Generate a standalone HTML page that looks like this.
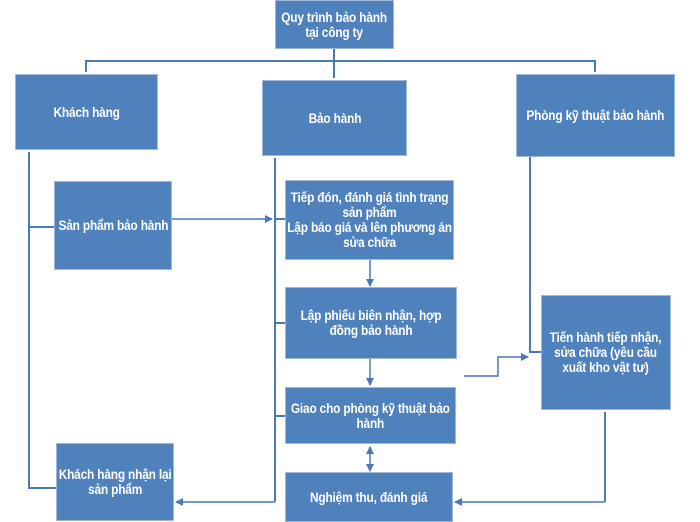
<!DOCTYPE html>
<html><head><meta charset="utf-8"><style>
body{margin:0;background:#fff;width:700px;height:521px;overflow:hidden;position:relative;font-family:"Liberation Sans",sans-serif;}
.b{position:absolute;background:#4f81bd;border:1px solid #9fb8d8;box-sizing:border-box;color:#fff;font-weight:bold;font-size:13.5px;line-height:15px;display:flex;align-items:center;justify-content:center;text-align:center;white-space:nowrap;}
.b span{display:inline-block;transform:scaleX(0.88);letter-spacing:-0.2px}
svg{position:absolute;left:0;top:0}
</style></head><body>
<svg width="700" height="521">
<defs><marker id="a" markerWidth="8" markerHeight="8" refX="7" refY="4" orient="auto" markerUnits="userSpaceOnUse"><path d="M0,0 L8,4 L0,8 z" fill="#4a7ab5"/></marker></defs>
<g stroke="#4a7ab5" stroke-width="2" fill="none">
<path d="M334 48V78M86 72V61H595V72"/>
<path d="M29 152V488H56M29 227H54"/>
<path d="M275 158V502M275 219H285M275 323H285M275 416H285"/>
<path d="M530 157V352H541"/>
<path d="M605 412V502"/>
</g>
<g stroke="#4a7ab5" stroke-width="1.5" fill="none">
<path d="M172 219H272" marker-end="url(#a)"/>
<path d="M370 260V286" marker-end="url(#a)"/>
<path d="M370 359V385" marker-end="url(#a)"/>
<path d="M370 459V471" marker-end="url(#a)"/>
<path d="M370 459V447" marker-end="url(#a)"/>
<path d="M275 502H176" marker-end="url(#a)"/>
<path d="M464 376H498V357H528" marker-end="url(#a)"/>
<path d="M605 502H455" marker-end="url(#a)"/>
</g>
</svg>
<div class="b" style="left:275px;top:0;width:119px;height:49px"><span>Quy trình bảo hành<br>tại công ty</span></div>
<div class="b" style="left:15px;top:74px;width:143px;height:76px"><span>Khách hàng</span></div>
<div class="b" style="left:262px;top:80px;width:145px;height:76px"><span>Bảo hành</span></div>
<div class="b" style="left:516px;top:74px;width:159px;height:83px"><span>Phòng kỹ thuật bảo hành</span></div>
<div class="b" style="left:54px;top:181px;width:118px;height:89px"><span>Sản phẩm bảo hành</span></div>
<div class="b" style="left:285px;top:180px;width:169px;height:80px"><span>Tiếp đón, đánh giá tình trạng<br>sản phẩm<br>Lập báo giá và lên phương án<br>sửa chữa</span></div>
<div class="b" style="left:285px;top:287px;width:172px;height:72px"><span>Lập phiếu biên nhận, hợp<br>đồng bảo hành</span></div>
<div class="b" style="left:285px;top:387px;width:171px;height:57px"><span>Giao cho phòng kỹ thuật bảo<br>hành</span></div>
<div class="b" style="left:285px;top:472px;width:168px;height:50px"><span>Nghiệm thu, đánh giá</span></div>
<div class="b" style="left:56px;top:443px;width:118px;height:78px"><span>Khách hàng nhận lại<br>sản phẩm</span></div>
<div class="b" style="left:541px;top:295px;width:130px;height:115px"><span>Tiến hành tiếp nhận,<br>sửa chữa (yêu cầu<br>xuất kho vật tư)</span></div>
</body></html>
